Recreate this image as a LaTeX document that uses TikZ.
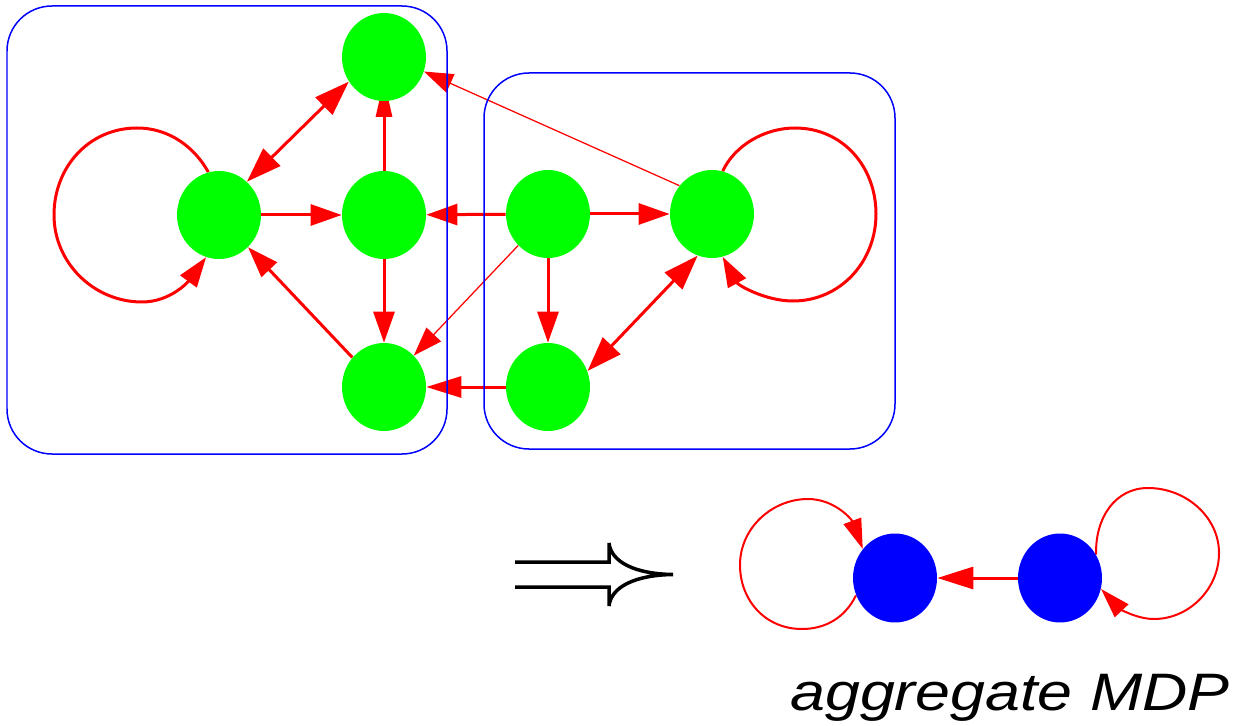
\documentclass[tikz,border=0pt]{standalone}
\usepackage{fontspec}
\usetikzlibrary{shapes.geometric,arrows.meta}
\newfontfamily\labelfont{Liberation Sans}

\definecolor{stategreen}{RGB}{0,255,0}
\definecolor{stateblue}{RGB}{0,0,255}
\definecolor{arcred}{RGB}{255,0,0}
\definecolor{boxblue}{RGB}{0,0,255}

\pgfdeclarelayer{edges}
\pgfsetlayers{edges,main}

\tikzset{
  gnode/.style={ellipse, fill=stategreen, minimum width=1.68cm, minimum height=1.76cm, inner sep=0pt},
  bnode/.style={ellipse, fill=stateblue, minimum width=1.68cm, minimum height=1.78cm, inner sep=0pt},
  arc/.style={draw=arcred, line width=0.06cm, -{Triangle[length=0.62cm,width=0.42cm]}},
  twoway/.style={draw=arcred, line width=0.06cm,
    {Triangle[length=0.7cm,width=0.48cm]}-{Triangle[length=0.7cm,width=0.48cm]}},
  thinarc/.style={draw=arcred, line width=0.025cm, -{Triangle[length=0.58cm,width=0.4cm]}},
  looparc/.style={draw=arcred, line width=0.04cm, -{Triangle[length=0.6cm,width=0.37cm]}},
  cluster/.style={draw=boxblue, line width=0.03cm, rounded corners=0.9cm},
}

\begin{document}
\begin{tikzpicture}[x=0.02cm, y=-0.02cm]
\useasboundingbox (0,0) rectangle (1241,726);

% states of the original MDP
\node[gnode] (T)  at (384,57)  {};
\node[gnode] (L)  at (219,215) {};
\node[gnode] (C)  at (384,215) {};
\node[gnode] (Bo) at (384,387) {};
\node[gnode] (A)  at (548,214) {};
\node[gnode] (R)  at (712,214) {};
\node[gnode] (D)  at (548,387) {};

% aggregate states
\node[bnode] (P1) at (895,578)  {};
\node[bnode] (P2) at (1060,578) {};

\coordinate (Tin) at (384,80);

\begin{pgfonlayer}{edges}
  % left cluster
  \draw[looparc, line width=0.06cm, -{Triangle[length=0.6cm,width=0.4cm]}]
    (L.104) .. controls (195,148) and (170,128) .. (137,128)
            .. controls (89,128) and (54,167) .. (54,215)
            .. controls (54,263) and (94,302) .. (142,302)
            .. controls (170,302) and (188,282) .. (L.-107);
  \draw[twoway] (L.50) -- (T.215);
  \draw[arc] (L) -- (C);
  \draw[draw=arcred, line width=0.06cm, -{Triangle[length=0.74cm,width=0.32cm]}] (C) -- (Tin);
  \draw[arc] (C) -- (Bo);
  \draw[arc] (Bo.137) -- (L.-48);

  % right cluster
  \draw[arc] (A) -- (C);
  \draw[arc] (A) -- (R);
  \draw[arc] (A) -- (D);
  \draw[arc, -{Triangle[length=0.7cm,width=0.42cm]}] (D) -- (Bo);
  \draw[thinarc] (A) -- (Bo);
  \draw[thinarc] (R.139) -- (T.-20);
  \draw[twoway] (R.251) -- (D.22);
  \draw[looparc, line width=0.06cm, -{Triangle[length=0.6cm,width=0.4cm]}]
    (R.76) .. controls (735,145) and (765,128) .. (795,128)
           .. controls (843,128) and (876,167) .. (876,214)
           .. controls (876,262) and (840,301) .. (793,301)
           .. controls (765,301) and (738,285) .. (R.-76);

  % aggregate MDP
  \draw[looparc]
    (P1.204) .. controls (845,618) and (825,629) .. (802,629)
             .. controls (765,629) and (740,600) .. (740,565)
             .. controls (740,528) and (772,499) .. (808,499)
             .. controls (835,499) and (852,520) .. (P1.138);
  \draw[draw=arcred, line width=0.06cm, -{Triangle[length=0.72cm,width=0.44cm]}] (P2) -- (P1);
  \draw[looparc]
    (P2.33) .. controls (1095,518) and (1115,488) .. (1148,488)
            .. controls (1186,488) and (1219,517) .. (1219,553)
            .. controls (1219,589) and (1189,619) .. (1154,619)
            .. controls (1136,619) and (1119,608) .. (P2.-15);
\end{pgfonlayer}

% clusters
\draw[cluster] (7,6) rectangle (447,454);
\draw[cluster] (484,73) rectangle (895,449);

% "implies" arrow
\draw[line width=0.07cm, line join=miter]
  (515,562) -- (609,562) -- (609,543)
  .. controls (611,562) and (635,574) .. (673,574.5)
  .. controls (635,575) and (611,587) .. (609,606)
  -- (609,587) -- (515,587);

\node[anchor=base west, inner sep=0pt, font=\labelfont\itshape\fontsize{30}{36}\selectfont]
  (lbl) at (790,710) {\scalebox{1.19}[1]{aggregate MDP}};
\end{tikzpicture}
\end{document}
